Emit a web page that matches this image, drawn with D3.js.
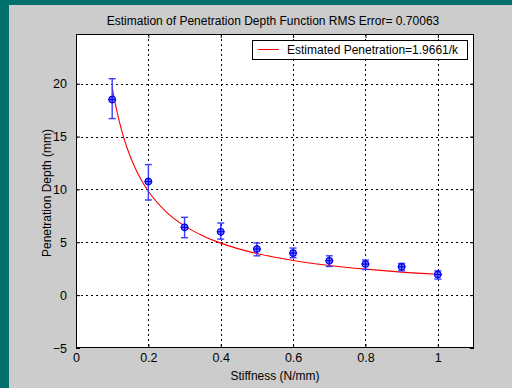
<!DOCTYPE html>
<html>
<head>
<meta charset="utf-8">
<script src="https://cdn.jsdelivr.net/npm/d3@7"></script>
<style>
  html, body { margin: 0; padding: 0; background: #00706c; }
  svg { display: block; font-family: "Liberation Sans", Arial, sans-serif; }
</style>
</head>
<body>
<svg width="512" height="388"></svg>
<script>
// measured points (stiffness, mean depth, error bar low/high)
const stiffness = [0.1, 0.2, 0.3, 0.4, 0.5, 0.6, 0.7, 0.8, 0.9, 1.0];
const depth = [18.5, 10.74, 6.41, 6.0, 4.36, 3.98, 3.25, 2.94, 2.68, 1.95];
const errLow = [16.7, 9.0, 5.43, 5.3, 3.72, 3.54, 2.71, 2.43, 2.3, 1.52];
const errHigh = [20.47, 12.35, 7.36, 6.82, 4.93, 4.45, 3.72, 3.32, 3.0, 2.3];

// fitted curve
const fitK = [0.1, 0.11, 0.12, 0.13, 0.14, 0.16, 0.18, 0.2, 0.25, 0.3, 0.35, 0.4, 0.5, 0.6, 0.7, 0.8, 0.9, 1.0];
const fitDepth = [19.66, 17.87, 16.38, 15.12, 14.04, 12.29, 10.92, 9.83, 7.86, 6.55, 5.62, 4.92, 3.93, 3.28, 2.81, 2.46, 2.18, 1.97];

const xTicks = [0, 0.2, 0.4, 0.6, 0.8, 1];
const yTicks = [-5, 0, 5, 10, 15, 20];
const title = 'Estimation of Penetration Depth Function RMS Error= 0.70063';
const legendLabel = 'Estimated Penetration=1.9661/k';

const svg = d3.select('svg');
const margin = { left: 76, top: 34, right: 474, bottom: 348 };

// figure panel
svg.append('rect')
  .attr('x', 9).attr('y', 5)
  .attr('width', 503).attr('height', 383)
  .attr('fill', '#cccccc');

const x = d3.scaleLinear().domain([0, 1.1]).range([margin.left, margin.right]);
const y = d3.scaleLinear().domain([-5, 24.7]).range([margin.bottom, margin.top]);

svg.append('rect')
  .attr('x', margin.left).attr('y', margin.top)
  .attr('width', margin.right - margin.left)
  .attr('height', margin.bottom - margin.top)
  .attr('fill', '#fff');

// grid
const grid = svg.append('g').attr('stroke', '#000').attr('stroke-width', 1).attr('stroke-dasharray', '2,3');
grid.selectAll('.gx').data(xTicks.slice(1))
  .join('line')
  .attr('x1', d => Math.round(x(d)) + 0.5).attr('x2', d => Math.round(x(d)) + 0.5)
  .attr('y1', margin.top).attr('y2', margin.bottom);
grid.selectAll('.gy').data(yTicks.slice(1))
  .join('line')
  .attr('y1', d => Math.round(y(d)) + 0.5).attr('y2', d => Math.round(y(d)) + 0.5)
  .attr('x1', margin.left).attr('x2', margin.right);

// axes (ticks inside, on all four sides)
const tickLen = 4;
svg.append('g')
  .attr('transform', `translate(0,${margin.bottom})`)
  .call(d3.axisBottom(x).tickValues(xTicks).tickSizeInner(-tickLen).tickSizeOuter(0).tickPadding(5).tickFormat(d3.format('')))
  .call(g => g.select('.domain').remove());
svg.append('g')
  .attr('transform', `translate(${margin.left},0)`)
  .call(d3.axisLeft(y).tickValues(yTicks).tickSizeInner(-tickLen).tickSizeOuter(0).tickPadding(9))
  .call(g => g.select('.domain').remove());
svg.append('g')
  .attr('transform', `translate(0,${margin.top})`)
  .call(d3.axisTop(x).tickValues(xTicks).tickSizeInner(-tickLen).tickSizeOuter(0).tickFormat(''))
  .call(g => g.select('.domain').remove());
svg.append('g')
  .attr('transform', `translate(${margin.right},0)`)
  .call(d3.axisRight(y).tickValues(yTicks).tickSizeInner(-tickLen).tickSizeOuter(0).tickFormat(''))
  .call(g => g.select('.domain').remove());
svg.selectAll('.tick text').attr('font-size', 12.5).attr('fill', '#000')
  .attr('font-family', '"Liberation Sans", Arial, sans-serif');

svg.append('rect')
  .attr('x', margin.left + 0.5).attr('y', margin.top + 0.5)
  .attr('width', margin.right - margin.left - 1)
  .attr('height', margin.bottom - margin.top - 1)
  .attr('fill', 'none').attr('stroke', '#000');

// fitted curve
const line = d3.line().x((d, i) => x(fitK[i])).y(d => y(d)).curve(d3.curveMonotoneX);
svg.append('path')
  .datum(fitDepth)
  .attr('d', line)
  .attr('fill', 'none')
  .attr('stroke', '#ff0000')
  .attr('stroke-width', 1.1);

// error bars
const pts = svg.append('g');
stiffness.forEach((k, i) => {
  const cx = x(k);
  const g = pts.append('g').attr('stroke', '#3c3cff').attr('stroke-width', 1.4);
  g.append('line').attr('x1', cx).attr('x2', cx).attr('y1', y(errLow[i])).attr('y2', y(errHigh[i]));
  g.append('line').attr('x1', cx - 3.5).attr('x2', cx + 3.5).attr('y1', y(errLow[i])).attr('y2', y(errLow[i]));
  g.append('line').attr('x1', cx - 3.5).attr('x2', cx + 3.5).attr('y1', y(errHigh[i])).attr('y2', y(errHigh[i]));
  const m = pts.append('g').attr('stroke', '#0000ee').attr('stroke-width', 1.2);
  m.append('circle').attr('cx', cx).attr('cy', y(depth[i])).attr('r', 3.2).attr('fill', '#8080ff');
  m.append('line').attr('x1', cx - 4).attr('x2', cx + 4).attr('y1', y(depth[i])).attr('y2', y(depth[i]));
  m.append('line').attr('x1', cx).attr('x2', cx).attr('y1', y(depth[i]) - 4).attr('y2', y(depth[i]) + 4);
});

// legend
const legend = svg.append('g');
legend.append('rect')
  .attr('x', 252.5).attr('y', 40.5).attr('width', 215).attr('height', 19)
  .attr('fill', '#fff').attr('stroke', '#000');
legend.append('line')
  .attr('x1', 258).attr('x2', 279).attr('y1', 49.5).attr('y2', 49.5)
  .attr('stroke', '#ff0000');
legend.append('text')
  .attr('x', 287).attr('y', 54)
  .attr('font-size', 12)
  .text(legendLabel);

// title and labels
svg.append('text')
  .attr('x', 273).attr('y', 25)
  .attr('text-anchor', 'middle')
  .attr('font-size', 12)
  .text(title);
svg.append('text')
  .attr('x', 275).attr('y', 380)
  .attr('text-anchor', 'middle')
  .attr('font-size', 12)
  .text('Stiffness (N/mm)');
svg.append('text')
  .attr('transform', 'translate(51,193) rotate(-90)')
  .attr('text-anchor', 'middle')
  .attr('font-size', 12)
  .text('Penetration Depth (mm)');
</script>
</body>
</html>
